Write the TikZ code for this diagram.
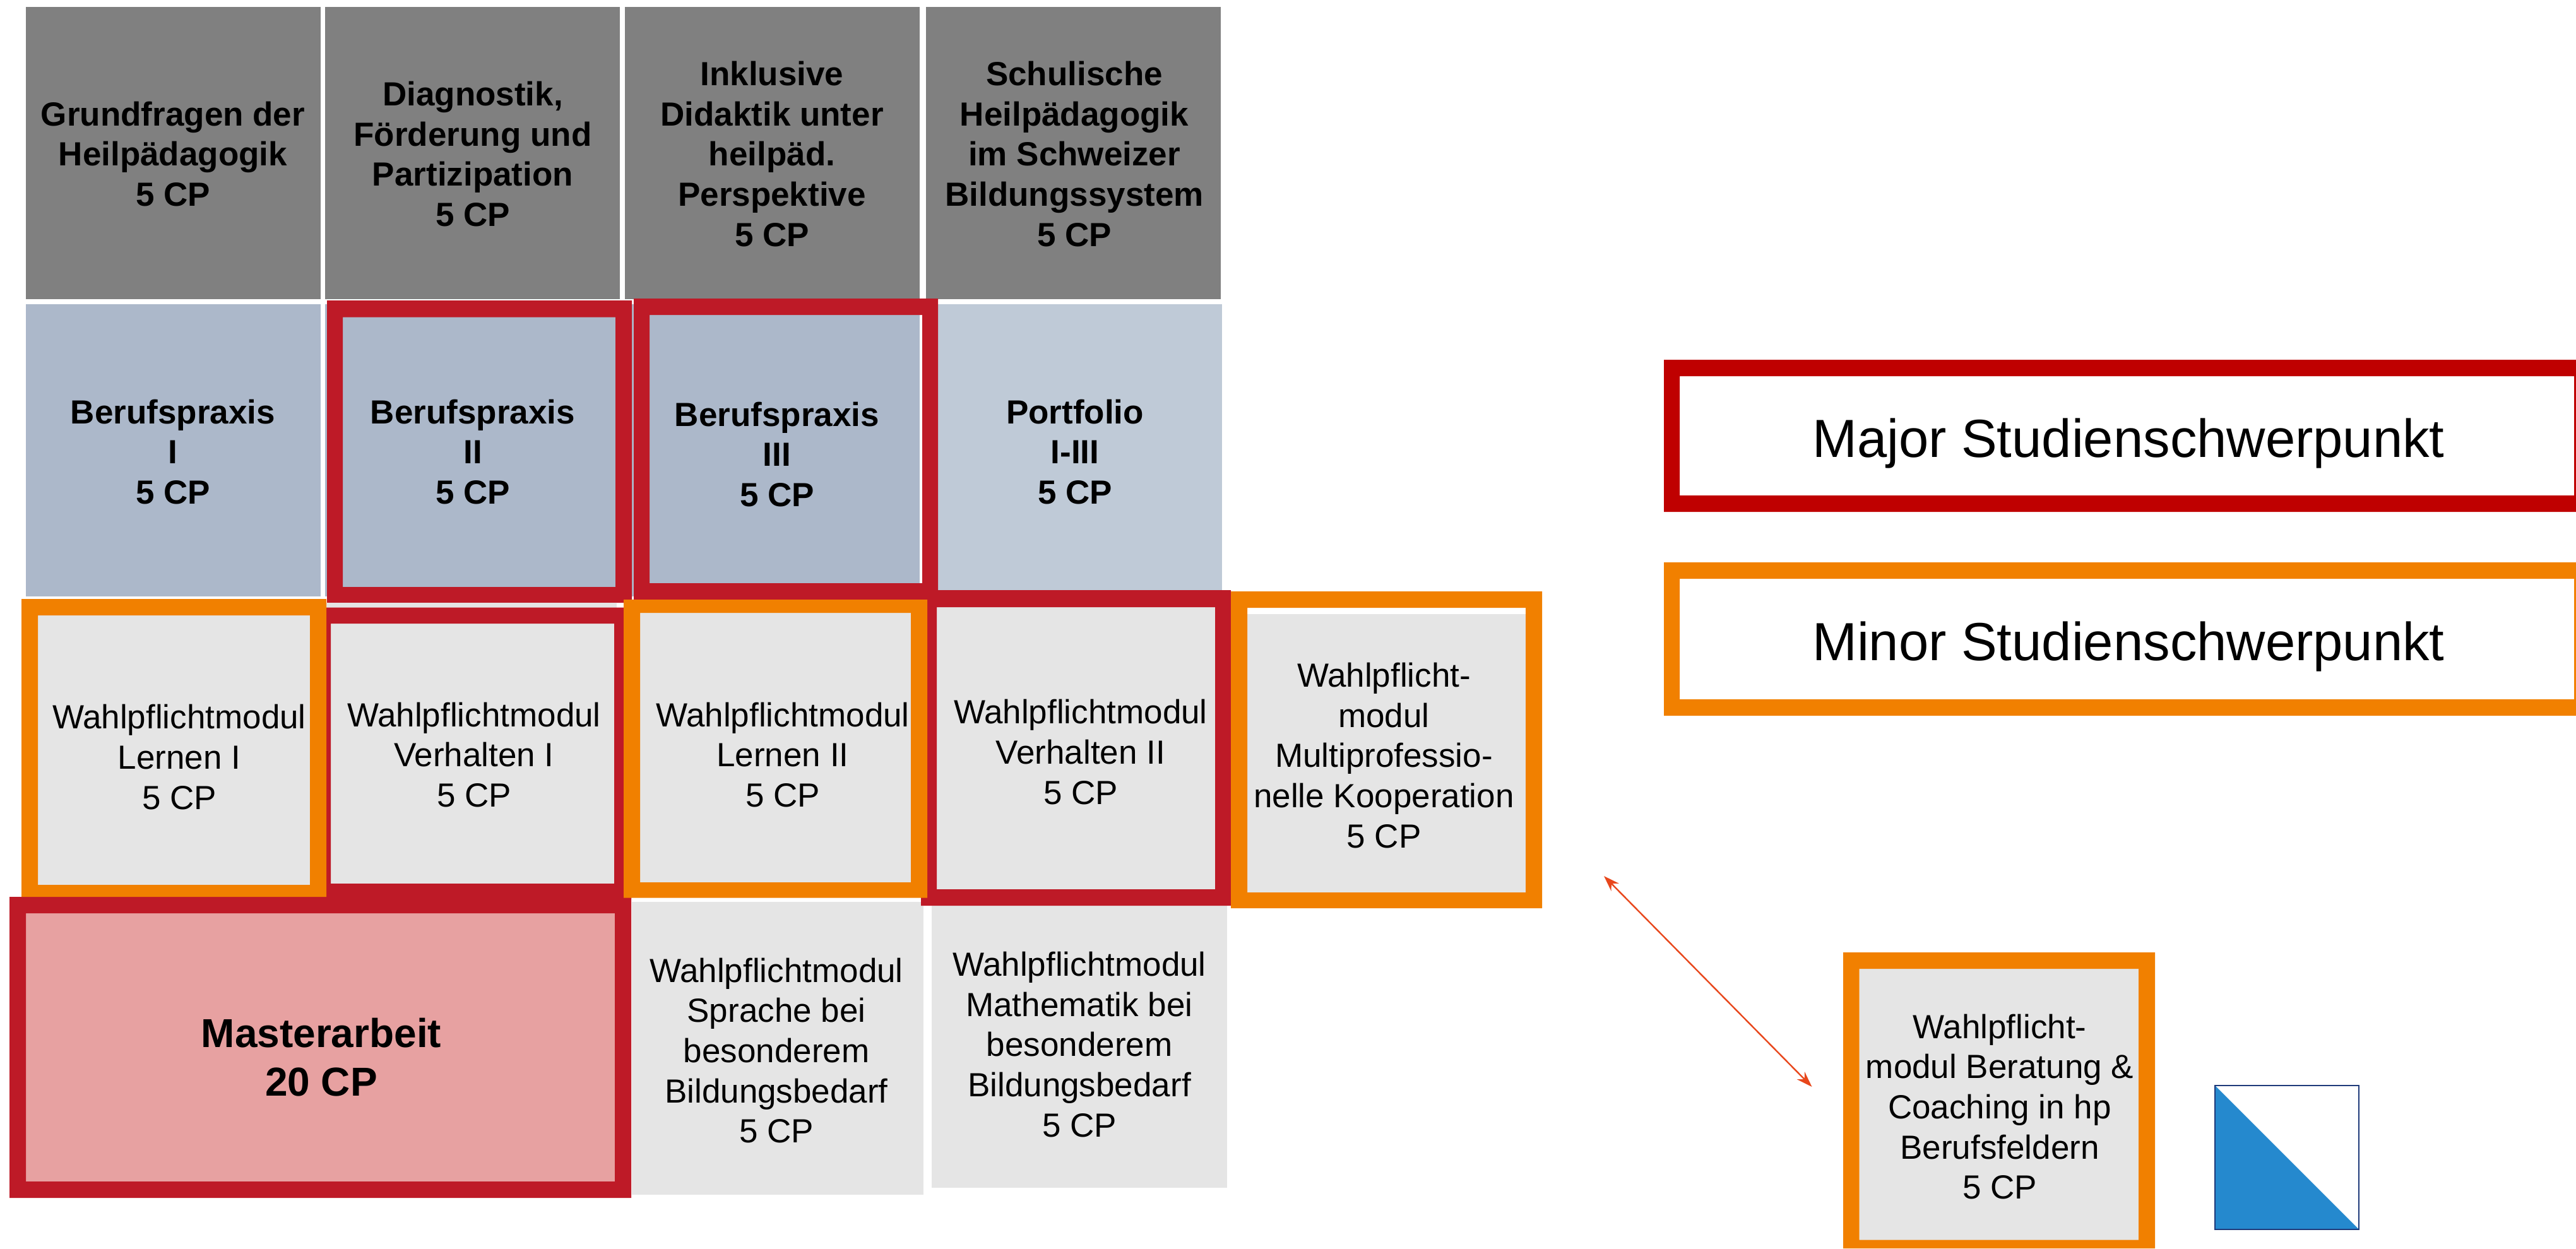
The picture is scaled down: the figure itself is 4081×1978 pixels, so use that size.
\documentclass[tikz,border=0pt]{standalone}
\usepackage{fontspec}
\setmainfont{Liberation Sans}
\definecolor{cellgray}{HTML}{808080}
\definecolor{cellblue}{HTML}{ACB8CA}
\definecolor{cellpale}{HTML}{BFCAD7}
\definecolor{celllight}{HTML}{E5E5E5}
\definecolor{cellrose}{HTML}{E7A1A1}
\definecolor{framered}{HTML}{BE1A27}
\definecolor{legendred}{HTML}{BF0000}
\definecolor{frameorange}{HTML}{F18000}
\definecolor{arrowred}{HTML}{E8471C}
\definecolor{flagblue}{HTML}{2589CE}
\definecolor{flagline}{HTML}{1F3A7A}
\newcommand{\Tp}{\rule{0pt}{0.8em}}
\newcommand{\Bt}{\rule[-0.2em]{0pt}{0.2em}}
% outer x0 y0 x1 y1, inner x0 y0 x1 y1, colour
\newcommand{\frameband}[9]{\fill[#9,even odd rule] (#1,#2) rectangle (#3,#4) (#5,#6) rectangle (#7,#8);}
\tikzset{
  body/.style={align=center,inner sep=0pt,text=black,yshift=-2pt,font=\fontsize{53}{63.6}\selectfont},
  strong/.style={body,font=\fontsize{53}{63.6}\selectfont\bfseries},
  master/.style={align=center,inner sep=0pt,text=black,yshift=-2pt,font=\fontsize{64}{77}\selectfont\bfseries},
  legend/.style={align=center,inner sep=0pt,text=black,yshift=-2pt,font=\fontsize{85}{102}\selectfont},
  link/.style={draw=arrowred,line width=2.4pt,{Stealth[length=25pt,width=17pt]}-{Stealth[length=25pt,width=17pt]}}
}
\usetikzlibrary{arrows.meta}
\begin{document}
\begin{tikzpicture}[x=1pt,y=-1pt]
\useasboundingbox (0,0) rectangle (4081,1978);
\fill[white] (0,0) rectangle (4081,1978);
% top row
\fill[cellgray] (41,11) rectangle (508,474);
\fill[cellgray] (515,11) rectangle (982,474);
\fill[cellgray] (990,11) rectangle (1457,474);
\fill[cellgray] (1467,11) rectangle (1934,474);
% second row
\fill[cellblue] (41,482) rectangle (508,945);
\fill[cellblue] (515,482) rectangle (982,945);
\fill[cellblue] (990,482) rectangle (1457,945);
\fill[cellpale] (1467,482) rectangle (1936,935);
\frameband{518}{476}{1001}{955}{543}{502.5}{975}{930}{framered}
\frameband{1004}{473}{1486}{950}{1029}{499}{1461}{924}{framered}
% lower cells
\fill[celllight] (517,955) rectangle (977,1410);
\fill[celllight] (1001,1429) rectangle (1463,1893);
\fill[celllight] (1476,1434) rectangle (1944,1882);
\fill[celllight] (1484,962) rectangle (1925,1409);
\fill[celllight] (60,975) rectangle (491,1402);
\fill[celllight] (1014,971) rectangle (1443,1398);
\fill[celllight] (1976,972.5) rectangle (2417,1414);
\fill[celllight] (2945.5,1535) rectangle (3388,1964.5);
\frameband{498}{962.5}{1000}{1425}{524}{988}{973}{1400}{framered}
\frameband{1459}{935}{1950}{1435}{1484}{962}{1925}{1409}{framered}
% Masterarbeit
\fill[cellrose] (41,1447) rectangle (974,1872);
\frameband{15}{1421}{1000}{1898}{41}{1447}{974}{1872}{framered}
% orange frames
\frameband{34}{949}{517}{1421}{60}{975}{491}{1402}{frameorange}
\frameband{988}{950}{1469}{1422.5}{1014}{971}{1443}{1398}{frameorange}
\frameband{1950}{937}{2443}{1439}{1976}{963}{2417}{1414}{frameorange}
\frameband{2920}{1509}{3414}{1978}{2945.5}{1535}{3388}{1964.5}{frameorange}
% legend frames
\frameband{2636}{570}{4081}{811}{2661}{596}{4078}{785}{legendred}
\frameband{2636}{891}{4081}{1134}{2661}{917}{4078}{1108}{frameorange}
% texts
\node[strong] (grund) at (274,245) {\Tp Grundfragen der\\Heilpädagogik\\5 CP\Bt};
\node[strong] (diag) at (749,245) {\Tp Diagnostik,\\Förderung und\\Partizipation\\5 CP\Bt};
\node[strong] (inkl) at (1223,245) {\Tp Inklusive\\Didaktik unter\\heilpäd.\\Perspektive\\5 CP\Bt};
\node[strong] (schul) at (1702,245) {\Tp Schulische\\Heilpädagogik\\im Schweizer\\Bildungssystem\\5 CP\Bt};
\node[strong] (bp1) at (274,717) {\Tp Berufspraxis\\I\\5 CP\Bt};
\node[strong] (bp2) at (749,717) {\Tp Berufspraxis\\II\\5 CP\Bt};
\node[strong] (bp3) at (1231,721) {\Tp Berufspraxis\\III\\5 CP\Bt};
\node[strong] (port) at (1703,717) {\Tp Portfolio\\I-III\\5 CP\Bt};
\node[body] (ler1) at (284,1200.5) {\Tp Wahlpflichtmodul\\Lernen I\\5 CP\Bt};
\node[body] (ver1) at (751,1197) {\Tp Wahlpflichtmodul\\Verhalten I\\5 CP\Bt};
\node[body] (ler2) at (1240,1197) {\Tp Wahlpflichtmodul\\Lernen II\\5 CP\Bt};
\node[body] (ver2) at (1712,1192.5) {\Tp Wahlpflichtmodul\\Verhalten II\\5 CP\Bt};
\node[body] (multi) at (2192.5,1198) {\Tp Wahlpflicht-\\modul\\Multiprofessio-\\nelle Kooperation\\5 CP\Bt};
\node[master] (ma) at (509,1677) {\Tp Masterarbeit\\20 CP\Bt};
\node[body] (spr) at (1230,1665.5) {\Tp Wahlpflichtmodul\\Sprache bei\\besonderem\\Bildungsbedarf\\5 CP\Bt};
\node[body] (mat) at (1710,1656) {\Tp Wahlpflichtmodul\\Mathematik bei\\besonderem\\Bildungsbedarf\\5 CP\Bt};
\node[body] (ber) at (3168,1754.5) {\Tp Wahlpflicht-\\modul Beratung \&\\Coaching in hp\\Berufsfeldern\\5 CP\Bt};
\node[legend] (major) at (3372,697.5) {\Tp Major Studienschwerpunkt\Bt};
\node[legend] (minor) at (3372,1019.5) {\Tp Minor Studienschwerpunkt\Bt};
% double arrow
\coordinate (linkA) at (2541,1388);
\coordinate (linkB) at (2870.5,1722);
\draw[link] (linkA) -- (linkB);
% flag
\fill[white] (3509,1720) rectangle (3737,1948);
\fill[flagblue] (3509,1720) -- (3509,1948) -- (3737,1948) -- cycle;
\draw[flagline,line width=2.5pt] (3509,1720) rectangle (3737,1948);
\end{tikzpicture}
\end{document}
